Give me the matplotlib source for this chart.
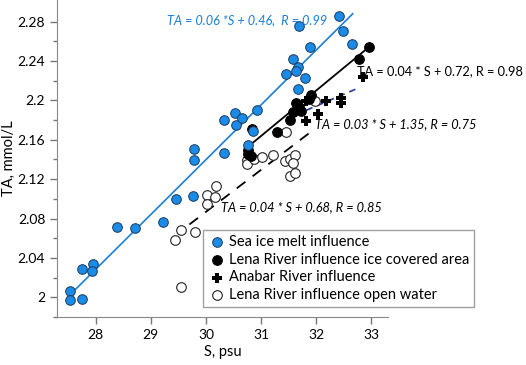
import numpy as np
import matplotlib.pyplot as plt

plt.rcParams['font.family'] = ['Lato', 'DejaVu Sans']

# Sea ice melt influence
sea_s = [27.53, 27.53, 27.75, 27.76, 27.95, 27.93, 28.38, 28.71, 29.23, 29.45, 29.76,
         29.78, 29.78, 30.32, 30.32, 30.52, 30.55, 30.66, 30.93, 30.86, 30.77,
         31.68, 32.42, 32.49, 32.65, 31.88, 31.57, 31.66, 31.64, 31.46, 31.80, 31.66]
sea_ta = [2.006, 1.997, 1.998, 2.029, 2.034, 2.027, 2.071, 2.070, 2.076, 2.100, 2.103,
          2.151, 2.139, 2.147, 2.180, 2.187, 2.175, 2.182, 2.190, 2.169, 2.155,
          2.276, 2.286, 2.271, 2.257, 2.254, 2.242, 2.234, 2.230, 2.227, 2.223, 2.212]

# Lena River influence ice covered area
ice_s = [32.95, 32.77, 31.90, 31.86, 31.64, 31.68, 31.66, 31.73, 31.57, 31.52, 31.28, 30.84,
         30.77, 30.77, 30.81]
ice_ta = [2.254, 2.242, 2.205, 2.201, 2.197, 2.193, 2.191, 2.189, 2.188, 2.180, 2.168, 2.171,
          2.150, 2.146, 2.144]

# Anabar River influence
ana_s = [32.84, 31.82, 32.17, 32.45, 32.45, 32.04, 31.82]
ana_ta = [2.224, 2.199, 2.199, 2.202, 2.197, 2.186, 2.179]

# Lena River influence open water
open_s = [30.19, 30.01, 30.16, 30.01, 29.54, 29.43, 29.81, 29.54, 31.53, 31.62, 31.97,
          31.46, 30.74, 30.75, 30.88, 31.02, 31.21, 31.44, 31.53, 31.62, 31.57]
open_ta = [2.113, 2.104, 2.102, 2.095, 2.068, 2.058, 2.066, 2.010, 2.123, 2.126, 2.199,
           2.168, 2.139, 2.135, 2.141, 2.143, 2.145, 2.138, 2.141, 2.145, 2.136]

# regression lines (end points)
sea_fit_s = [27.58, 32.66]
sea_fit_ta = [2.005, 2.288]
ice_fit_s = [30.85, 32.95]
ice_fit_ta = [2.157, 2.254]
open_fit_s = [29.70, 31.97]
open_fit_ta = [2.074, 2.171]
ana_fit_s = [31.82, 32.78]
ana_fit_ta = [2.190, 2.213]

blue = '#1a8be6'

fig = plt.figure(figsize=(5.26, 3.65), dpi=100)
ax = fig.add_axes([57 / 526, 1 - 317 / 365, (388 - 57) / 526, 317 / 365])

ax.plot(sea_fit_s, sea_fit_ta, color='#1a7fd8', lw=1.2, zorder=2)
ax.plot(ice_fit_s, ice_fit_ta, color='black', lw=1.3, zorder=2)
ax.plot(open_fit_s, open_fit_ta, color='black', lw=1.3, ls=(0, (6, 5)), zorder=2)
ax.plot(ana_fit_s, ana_fit_ta, color='#1f3c99', lw=1.2, ls=(0, (4, 3)), zorder=2)

ax.scatter(open_s, open_ta, s=48, facecolor='white', edgecolor='#222222', lw=0.8, zorder=3,
           label='Lena River influence open water')
ax.scatter(ice_s, ice_ta, s=48, facecolor='black', edgecolor='black', lw=0.8, zorder=4,
           label='Lena River influence ice covered area')
ax.scatter(ana_s, ana_ta, s=60, marker='P', color='black', lw=0, zorder=4,
           label='Anabar River influence')
ax.scatter(sea_s, sea_ta, s=48, facecolor=blue, edgecolor='#1d3a5c', lw=0.7, zorder=5,
           label='Sea ice melt influence')

ax.set_xlim(27.3, 33.3)
ax.set_ylim(1.98, 2.302)
ax.set_xticks([28, 29, 30, 31, 32, 33])
ax.set_yticks([2, 2.04, 2.08, 2.12, 2.16, 2.2, 2.24, 2.28])
ax.set_yticklabels(['2', '2.04', '2.08', '2.12', '2.16', '2.2', '2.24', '2.28'])
ax.set_yticks(np.arange(1.98, 2.30, 0.02), minor=True)
ax.tick_params(axis='both', direction='out', length=5, width=1, color='#777777', labelsize=10)
ax.tick_params(axis='y', which='minor', direction='out', length=3, width=1, color='#777777')
for side in ['top', 'right']:
    ax.spines[side].set_visible(False)
for side in ['left', 'bottom']:
    ax.spines[side].set_color('#888888')
ax.patch.set_alpha(0)

ax.set_xlabel('S, psu', fontsize=10.5, labelpad=3)
ax.set_ylabel('TA, mmol/L', fontsize=10.5, labelpad=1)

fig.text(167 / 526, 1 - 20 / 365, 'TA = 0.06 *S + 0.46,  R = 0.99', color='#1a7fd8',
         style='italic', fontsize=9.2, va='center', ha='left')
fig.text(357 / 526, 1 - 71 / 365, 'TA = 0.04 * S + 0.72, R = 0.98', color='black',
         fontsize=9.2, va='center', ha='left')
fig.text(315 / 526, 1 - 124 / 365, 'TA = 0.03 * S + 1.35, R = 0.75', color='black',
         style='italic', fontsize=9.2, va='center', ha='left')
fig.text(221 / 526, 1 - 207 / 365, 'TA = 0.04 * S + 0.68, R = 0.85', color='black',
         style='italic', fontsize=9.2, va='center', ha='left')

h, l = ax.get_legend_handles_labels()
order = [3, 1, 2, 0]
leg = fig.legend([h[i] for i in order], [l[i] for i in order],
                 loc='upper left', bbox_to_anchor=(203 / 526, 1 - 230 / 365),
                 frameon=True, fancybox=False, fontsize=10.5, handletextpad=0.2,
                 handlelength=1.2, borderpad=0.35, labelspacing=0.25, borderaxespad=0)
leg.get_frame().set_edgecolor('#888888')
leg.get_frame().set_linewidth(1)

fig.savefig('out.png', dpi=100)
